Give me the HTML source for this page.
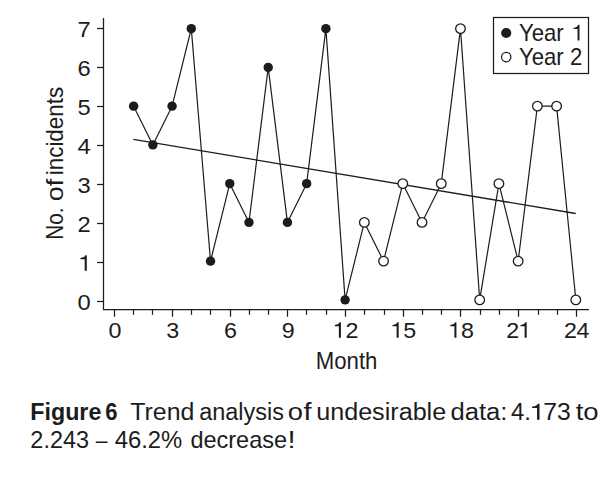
<!DOCTYPE html>
<html lang="en"><head><meta charset="utf-8"><title>Figure 6</title>
<style>
html,body{margin:0;padding:0;background:#fff;}
body{width:613px;height:480px;overflow:hidden;font-family:"Liberation Sans",sans-serif;}
svg{display:block;}
text{font-family:"Liberation Sans",sans-serif;fill:#1c1c1c;}
</style></head><body>
<svg width="613" height="480" viewBox="0 0 613 480">
<rect x="0" y="0" width="613" height="480" fill="#ffffff"/>
<g stroke="#1c1c1c" stroke-width="1.25" fill="none">
<path d="M103.5 18 V309.5 H589"/>
<path d="M97.0 301.5 H103.5"/>
<path d="M97.0 262.5 H103.5"/>
<path d="M97.0 223.5 H103.5"/>
<path d="M97.0 184.5 H103.5"/>
<path d="M97.0 145.5 H103.5"/>
<path d="M97.0 106.5 H103.5"/>
<path d="M97.0 67.5 H103.5"/>
<path d="M97.0 28.5 H103.5"/>
<path d="M114.5 309.5 V316.8"/>
<path d="M133.5 309.5 V314.8"/>
<path d="M152.5 309.5 V314.8"/>
<path d="M172.5 309.5 V316.8"/>
<path d="M191.5 309.5 V314.8"/>
<path d="M210.5 309.5 V314.8"/>
<path d="M230.5 309.5 V316.8"/>
<path d="M249.5 309.5 V314.8"/>
<path d="M268.5 309.5 V314.8"/>
<path d="M287.5 309.5 V316.8"/>
<path d="M306.5 309.5 V314.8"/>
<path d="M326.5 309.5 V314.8"/>
<path d="M345.5 309.5 V316.8"/>
<path d="M364.5 309.5 V314.8"/>
<path d="M384.5 309.5 V314.8"/>
<path d="M403.5 309.5 V316.8"/>
<path d="M422.5 309.5 V314.8"/>
<path d="M441.5 309.5 V314.8"/>
<path d="M460.5 309.5 V316.8"/>
<path d="M480.5 309.5 V314.8"/>
<path d="M499.5 309.5 V314.8"/>
<path d="M518.5 309.5 V316.8"/>
<path d="M538.5 309.5 V314.8"/>
<path d="M557.5 309.5 V314.8"/>
<path d="M576.5 309.5 V316.8"/>
</g>
<path d="M133.4 139.4 L575.7 213.5" stroke="#1c1c1c" stroke-width="1.3" fill="none"/>
<path d="M133.63 106.15 L152.85 144.90 L172.08 106.15 L191.30 28.65 L210.53 261.15 L229.76 183.65 L248.98 222.40 L268.21 67.40 L287.43 222.40 L306.66 183.65 L325.89 28.65 L345.11 299.90 L364.34 222.40 L383.56 261.15 L402.79 183.65 L422.02 222.40 L441.24 183.65 L460.47 28.65 L479.69 299.90 L498.92 183.65 L518.15 261.15 L537.37 106.15 L556.60 106.15 L575.82 299.90" stroke="#1c1c1c" stroke-width="1.2" fill="none" stroke-linejoin="round"/>
<circle cx="133.63" cy="106.15" r="4.7" fill="#1c1c1c"/>
<circle cx="152.85" cy="144.90" r="4.7" fill="#1c1c1c"/>
<circle cx="172.08" cy="106.15" r="4.7" fill="#1c1c1c"/>
<circle cx="191.30" cy="28.65" r="4.7" fill="#1c1c1c"/>
<circle cx="210.53" cy="261.15" r="4.7" fill="#1c1c1c"/>
<circle cx="229.76" cy="183.65" r="4.7" fill="#1c1c1c"/>
<circle cx="248.98" cy="222.40" r="4.7" fill="#1c1c1c"/>
<circle cx="268.21" cy="67.40" r="4.7" fill="#1c1c1c"/>
<circle cx="287.43" cy="222.40" r="4.7" fill="#1c1c1c"/>
<circle cx="306.66" cy="183.65" r="4.7" fill="#1c1c1c"/>
<circle cx="325.89" cy="28.65" r="4.7" fill="#1c1c1c"/>
<circle cx="345.11" cy="299.90" r="4.7" fill="#1c1c1c"/>
<circle cx="364.34" cy="222.40" r="4.8" fill="#fff" stroke="#1c1c1c" stroke-width="1.3"/>
<circle cx="383.56" cy="261.15" r="4.8" fill="#fff" stroke="#1c1c1c" stroke-width="1.3"/>
<circle cx="402.79" cy="183.65" r="4.8" fill="#fff" stroke="#1c1c1c" stroke-width="1.3"/>
<circle cx="422.02" cy="222.40" r="4.8" fill="#fff" stroke="#1c1c1c" stroke-width="1.3"/>
<circle cx="441.24" cy="183.65" r="4.8" fill="#fff" stroke="#1c1c1c" stroke-width="1.3"/>
<circle cx="460.47" cy="28.65" r="4.8" fill="#fff" stroke="#1c1c1c" stroke-width="1.3"/>
<circle cx="479.69" cy="299.90" r="4.8" fill="#fff" stroke="#1c1c1c" stroke-width="1.3"/>
<circle cx="498.92" cy="183.65" r="4.8" fill="#fff" stroke="#1c1c1c" stroke-width="1.3"/>
<circle cx="518.15" cy="261.15" r="4.8" fill="#fff" stroke="#1c1c1c" stroke-width="1.3"/>
<circle cx="537.37" cy="106.15" r="4.8" fill="#fff" stroke="#1c1c1c" stroke-width="1.3"/>
<circle cx="556.60" cy="106.15" r="4.8" fill="#fff" stroke="#1c1c1c" stroke-width="1.3"/>
<circle cx="575.82" cy="299.90" r="4.8" fill="#fff" stroke="#1c1c1c" stroke-width="1.3"/>
<text transform="translate(90.7 309.80) scale(1.05 1)" font-size="22.6" text-anchor="end">0</text>
<path fill="#1c1c1c" d="M86.80 270.77 L84.67 270.77 L84.67 259.31 L80.42 259.31 L80.42 258.05 Q82.87 257.78 83.93 257.04 Q84.99 256.30 85.43 255.22 L86.80 255.22 Z"/>
<text transform="translate(90.7 231.74) scale(1.05 1)" font-size="22.6" text-anchor="end">2</text>
<text transform="translate(90.7 192.71) scale(1.05 1)" font-size="22.6" text-anchor="end">3</text>
<text transform="translate(90.7 153.68) scale(1.05 1)" font-size="22.6" text-anchor="end">4</text>
<text transform="translate(90.7 114.65) scale(1.05 1)" font-size="22.6" text-anchor="end">5</text>
<text transform="translate(90.7 75.62) scale(1.05 1)" font-size="22.6" text-anchor="end">6</text>
<text transform="translate(90.7 36.59) scale(1.05 1)" font-size="22.6" text-anchor="end">7</text>
<text transform="translate(114.90 337.8) scale(1.03 1)" font-size="22.6" text-anchor="middle">0</text>
<text transform="translate(172.65 337.8) scale(1.03 1)" font-size="22.6" text-anchor="middle">3</text>
<text transform="translate(230.40 337.8) scale(1.03 1)" font-size="22.6" text-anchor="middle">6</text>
<text transform="translate(288.15 337.8) scale(1.03 1)" font-size="22.6" text-anchor="middle">9</text>
<path fill="#1c1c1c" d="M340.92 337.80 L338.88 337.80 L338.88 326.34 L334.79 326.34 L334.79 325.08 Q337.14 324.81 338.16 324.07 Q339.18 323.33 339.60 322.25 L340.92 322.25 Z"/>
<text transform="translate(345.40 337.8) scale(1.03 1)" font-size="22.6">2</text>
<path fill="#1c1c1c" d="M398.67 337.80 L396.63 337.80 L396.63 326.34 L392.54 326.34 L392.54 325.08 Q394.89 324.81 395.91 324.07 Q396.93 323.33 397.35 322.25 L398.67 322.25 Z"/>
<text transform="translate(403.15 337.8) scale(1.03 1)" font-size="22.6">5</text>
<path fill="#1c1c1c" d="M456.42 337.80 L454.38 337.80 L454.38 326.34 L450.29 326.34 L450.29 325.08 Q452.64 324.81 453.66 324.07 Q454.68 323.33 455.10 322.25 L456.42 322.25 Z"/>
<text transform="translate(460.90 337.8) scale(1.03 1)" font-size="22.6">8</text>
<text transform="translate(506.15 337.8) scale(1.03 1)" font-size="22.6">2</text>
<path fill="#1c1c1c" d="M526.67 337.80 L524.63 337.80 L524.63 326.34 L520.54 326.34 L520.54 325.08 Q522.89 324.81 523.91 324.07 Q524.93 323.33 525.35 322.25 L526.67 322.25 Z"/>
<text transform="translate(563.90 337.8) scale(1.03 1)" font-size="22.6">2</text>
<text transform="translate(576.40 337.8) scale(1.03 1)" font-size="22.6">4</text>
<text transform="translate(346.6 369) scale(0.965 1)" font-size="23" text-anchor="middle">Month</text>
<text transform="translate(62.8 239.79) rotate(-90) scale(0.9004 1)" font-size="23">No.</text>
<text transform="translate(62.8 201.17) rotate(-90) scale(1.1671 1)" font-size="23">of</text>
<text transform="translate(62.8 175.26) rotate(-90) scale(0.9751 1)" font-size="23">incidents</text>
<rect x="493.5" y="17.5" width="95" height="56" fill="#fff" stroke="#1c1c1c" stroke-width="1.25"/>
<circle cx="506.2" cy="33" r="5.1" fill="#1c1c1c"/>
<circle cx="506.2" cy="57.1" r="4.7" fill="#fff" stroke="#1c1c1c" stroke-width="1.2"/>
<text transform="translate(518.9 40.6) scale(0.965 1)" font-size="23">Year</text>
<path fill="#1c1c1c" d="M579.50 40.60 L577.55 40.60 L577.55 28.94 L573.65 28.94 L573.65 27.66 Q575.89 27.38 576.87 26.63 Q577.84 25.87 578.24 24.78 L579.50 24.78 Z"/>
<text transform="translate(518.9 64.9) scale(0.965 1)" font-size="23">Year 2</text>
<text transform="translate(30.28 419.7) scale(1.0118 1)" font-size="23" font-weight="bold">Figure</text>
<text transform="translate(105.22 419.7) scale(0.9467 1)" font-size="23.3" font-weight="bold">6</text>
<text transform="translate(130.16 419.7) scale(1.0753 1)" font-size="23.2">Trend</text>
<text transform="translate(199.19 419.7) scale(1.0110 1)" font-size="23.2">analysis</text>
<text transform="translate(287.72 419.7) scale(1.1770 1)" font-size="23.2">o</text>
<text transform="translate(303.62 419.7) scale(1.2600 1)" font-size="23.2">f</text>
<text transform="translate(316.17 419.7) scale(1.0846 1)" font-size="23.2">undesirable</text>
<text transform="translate(450.39 419.7) scale(1.1052 1)" font-size="23.2">data:</text>
<text transform="translate(511.09 419.7) scale(1.0252 1)" font-size="23.3">4.</text>
<text transform="translate(543.37 419.7) scale(1.0624 1)" font-size="23.3">73</text>
<text transform="translate(575.65 419.7) scale(1.1889 1)" font-size="23.2">to</text>
<text transform="translate(30.37 448.1) scale(1.0067 1)" font-size="23.3">2.243</text>
<text transform="translate(95.80 448.1) scale(0.9165 1)" font-size="23.2">–</text>
<text transform="translate(114.69 448.1) scale(1.0239 1)" font-size="23.3">46.2%</text>
<text transform="translate(190.39 448.1) scale(1.0131 1)" font-size="23.2">decrease</text>
<text transform="translate(287.55 448.1) scale(1.2600 1)" font-size="23.2">!</text>
<path fill="#1c1c1c" d="M539.50 419.70 L537.04 419.70 L537.04 407.88 L532.13 407.88 L532.13 406.59 Q534.95 406.31 536.18 405.54 Q537.41 404.78 537.92 403.67 L539.50 403.67 Z"/>
</svg>
</body></html>
